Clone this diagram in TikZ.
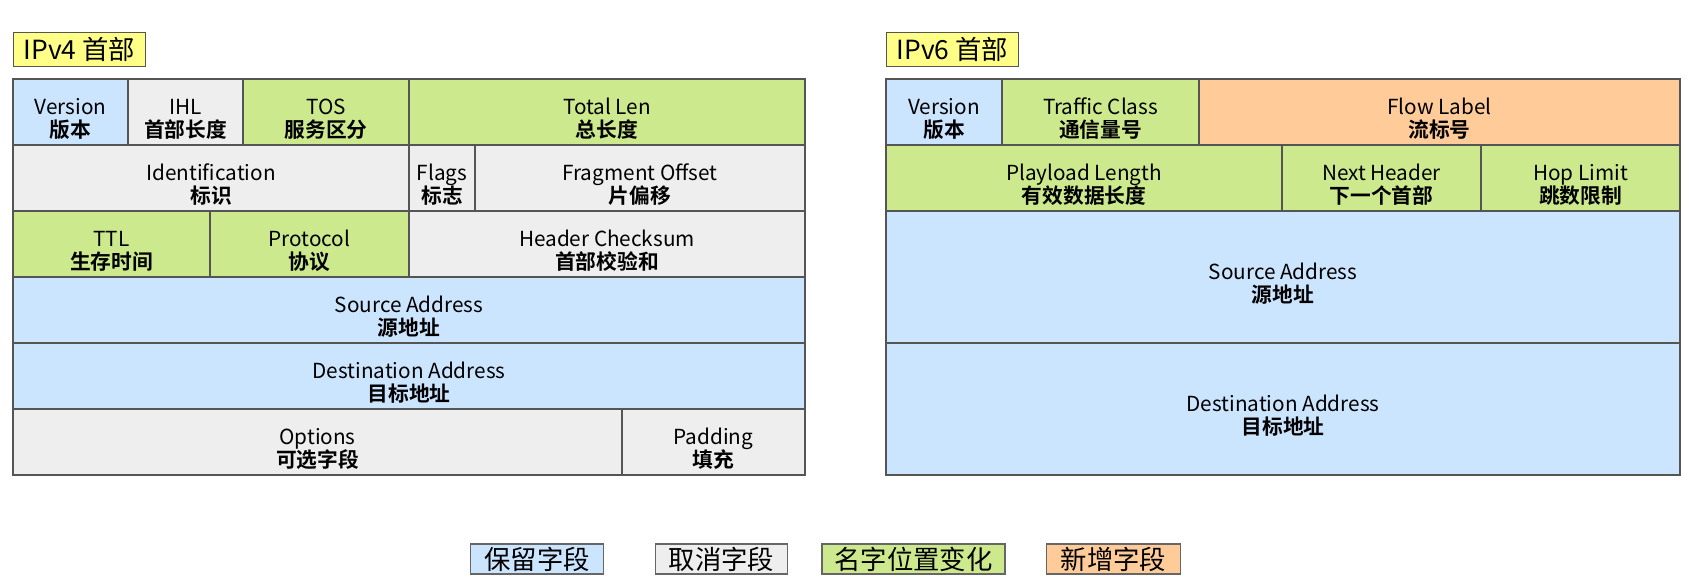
\documentclass[tikz,border=0pt]{standalone}
\usepackage{fontspec}
\setmainfont{Noto Sans CJK SC}[BoldFont={Noto Sans CJK SC Bold}]

\definecolor{keepblue}{HTML}{CCE5FF}
\definecolor{dropgray}{HTML}{EEEEEE}
\definecolor{movegreen}{HTML}{CDE98D}
\definecolor{neworange}{HTML}{FFCC99}
\definecolor{titleyellow}{HTML}{FFFF88}
\definecolor{linegray}{HTML}{555555}

\newcommand{\fieldfont}{\fontsize{11.8}{13.2}\selectfont}
% english name on top, chinese name below (strut pushes the pair down a bit)
\newcommand{\twoline}[2]{\rule{0pt}{17pt}#1\\\textbf{#2}}

\begin{document}
\begin{tikzpicture}[
    field/.style={rectangle, draw=linegray, line width=0.8pt, inner sep=0pt, minimum height=1.32cm, align=center, font=\fieldfont},
    title/.style={rectangle, draw=linegray, fill=titleyellow, line width=0.8pt, minimum height=0.69cm, minimum width=2.63cm, inner sep=2pt, anchor=west, font=\fontsize{15}{17}\selectfont},
    legendbox/.style={rectangle, draw=linegray!90, line width=0.8pt, minimum height=0.6cm, inner sep=0pt, font=\fontsize{15}{17}\selectfont}
]
\useasboundingbox (0, 0) rectangle (33.78, -11.76);

% === IPv4 HEADER ===
\node[title] (t4) at (0.26, -0.99) {IPv4 首部};

% row 1
\node[field, fill=keepblue, minimum width=2.30cm] (ver4) at (1.41, -2.24) {\twoline{Version}{版本}};
\node[field, fill=dropgray, minimum width=2.30cm] (ihl) at (3.71, -2.24) {\twoline{IHL}{首部长度}};
\node[field, fill=movegreen, minimum width=3.32cm] (tos) at (6.52, -2.24) {\twoline{TOS}{服务区分}};
\node[field, fill=movegreen, minimum width=7.92cm] (totlen) at (12.14, -2.24) {\twoline{Total Len}{总长度}};

% row 2
\node[field, fill=dropgray, minimum width=7.92cm] (ident) at (4.22, -3.56) {\twoline{Identification}{标识}};
\node[field, fill=dropgray, minimum width=1.32cm] (flags) at (8.84, -3.56) {\twoline{Flags}{标志}};
\node[field, fill=dropgray, minimum width=6.60cm] (fragoff) at (12.80, -3.56) {\twoline{Fragment Offset}{片偏移}};

% row 3
\node[field, fill=movegreen, minimum width=3.94cm] (ttl) at (2.23, -4.88) {\twoline{TTL}{生存时间}};
\node[field, fill=movegreen, minimum width=3.98cm] (proto) at (6.19, -4.88) {\twoline{Protocol}{协议}};
\node[field, fill=dropgray, minimum width=7.92cm] (chksum) at (12.14, -4.88) {\twoline{Header Checksum}{首部校验和}};

% rows 4-6
\node[field, fill=keepblue, minimum width=15.84cm] (src4) at (8.18, -6.20) {\twoline{Source Address}{源地址}};
\node[field, fill=keepblue, minimum width=15.84cm] (dst4) at (8.18, -7.52) {\twoline{Destination Address}{目标地址}};
\node[field, fill=dropgray, minimum width=12.18cm] (opts) at (6.35, -8.84) {\twoline{Options}{可选字段}};
\node[field, fill=dropgray, minimum width=3.66cm] (pad) at (14.27, -8.84) {\twoline{Padding}{填充}};

% === IPv6 HEADER ===
\node[title] (t6) at (17.72, -0.99) {IPv6 首部};

% row 1
\node[field, fill=keepblue, minimum width=2.32cm] (ver6) at (18.88, -2.24) {\twoline{Version}{版本}};
\node[field, fill=movegreen, minimum width=3.94cm] (tclass) at (22.01, -2.24) {\twoline{Traffic Class}{通信量号}};
\node[field, fill=neworange, minimum width=9.62cm] (flow) at (28.79, -2.24) {\twoline{Flow Label}{流标号}};

% row 2
\node[field, fill=movegreen, minimum width=7.92cm] (paylen) at (21.68, -3.56) {\twoline{Playload Length}{有效数据长度}};
\node[field, fill=movegreen, minimum width=3.98cm] (nexthdr) at (27.63, -3.56) {\twoline{Next Header}{下一个首部}};
\node[field, fill=movegreen, minimum width=3.98cm] (hoplim) at (31.61, -3.56) {\twoline{Hop Limit}{跳数限制}};

% addresses
\node[field, fill=keepblue, minimum width=15.88cm, minimum height=2.64cm] (src6) at (25.66, -5.54) {\twoline{Source Address}{源地址}};
\node[field, fill=keepblue, minimum width=15.88cm, minimum height=2.64cm] (dst6) at (25.66, -8.18) {\twoline{Destination Address}{目标地址}};

% === LEGEND ===
\node[legendbox, fill=keepblue, minimum width=2.65cm] (lkeep) at (10.74, -11.18) {保留字段};
\node[legendbox, fill=dropgray, minimum width=2.63cm] (ldrop) at (14.43, -11.18) {取消字段};
\node[legendbox, fill=movegreen, minimum width=3.66cm] (lmove) at (18.27, -11.18) {名字位置变化};
\node[legendbox, fill=neworange, minimum width=2.69cm] (lnew) at (22.27, -11.18) {新增字段};

\end{tikzpicture}
\end{document}
